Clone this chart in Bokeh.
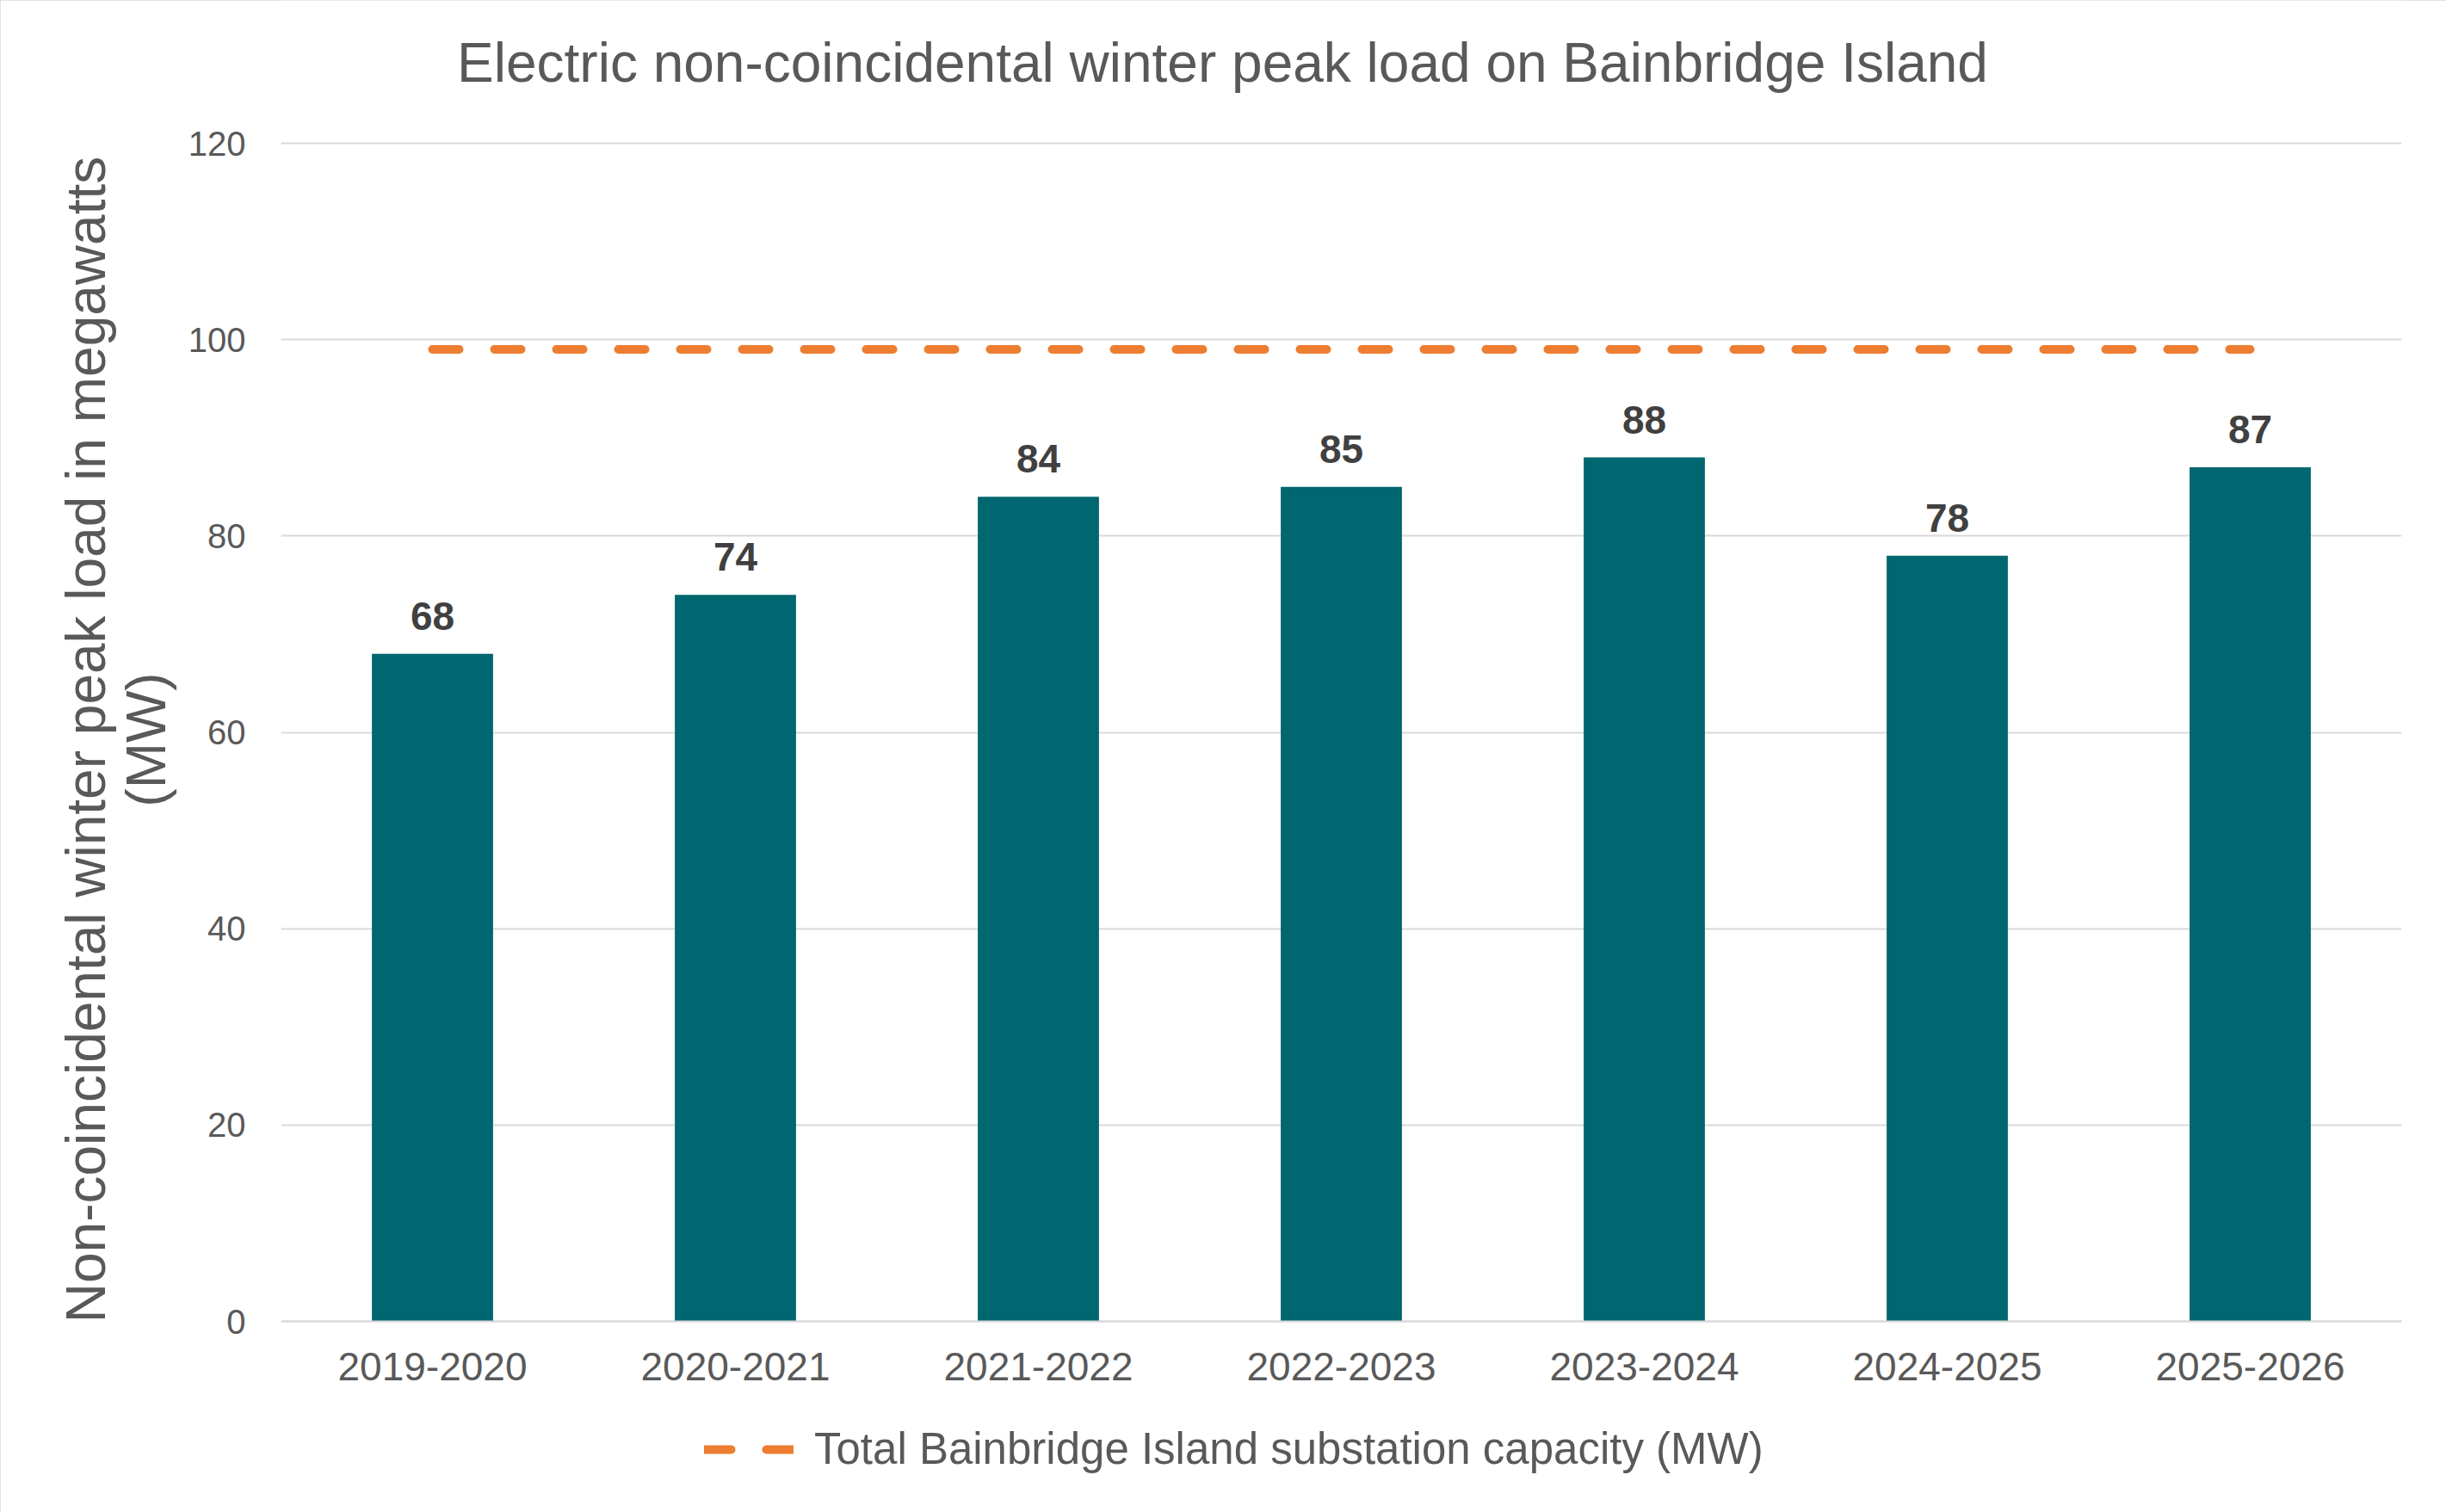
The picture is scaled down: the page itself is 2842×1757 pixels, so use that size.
from bokeh.plotting import figure
from bokeh.models import (ColumnDataSource, FactorRange, Range1d, Legend, LegendItem,
                          FixedTicker, Label)
from bokeh.embed import file_html
from bokeh.resources import INLINE
from bokeh.core.properties import value

# ---- data ----
seasons = ["2019-2020", "2020-2021", "2021-2022", "2022-2023",
           "2023-2024", "2024-2025", "2025-2026"]
peak_load = [68, 74, 84, 85, 88, 78, 87]
capacity = [99, 99, 99, 99, 99, 99, 99]
y_ticks = [0, 20, 40, 60, 80, 100, 120]

title_text = "Electric non-coincidental winter peak load on Bainbridge Island"
ylabel_line1 = "Non-coincidental winter peak load in megawatts"
ylabel_line2 = "(MW)"
legend_label = "Total Bainbridge Island substation capacity (MW)"

FONT = "Liberation Sans"
GRAY = "#595959"
TEAL = "#00666F"
ORANGE = "#ED7D31"
GRID = "#D9D9D9"

# ---- layout (pixels) ----
W, H = 2842, 1757
FRAME_LEFT, FRAME_RIGHT = 326, 2790
FRAME_TOP, FRAME_BOTTOM = 0, 1718
Y_TOP_PX, Y_ZERO_PX = 166, 1535          # where 120 and 0 sit
TITLE_PX_X, TITLE_PX_Y = 1420, 72
px_per_unit = (Y_ZERO_PX - Y_TOP_PX) / max(y_ticks)
y_start = -(FRAME_BOTTOM - Y_ZERO_PX) / px_per_unit
y_end = max(y_ticks) + (Y_TOP_PX - FRAME_TOP) / px_per_unit
px_per_cat = (FRAME_RIGHT - FRAME_LEFT) / len(seasons)

bar_src = ColumnDataSource(dict(season=seasons, load=peak_load,
                                label=[str(v) for v in peak_load]))
cap_src = ColumnDataSource(dict(season=seasons, cap=capacity))

p = figure(x_range=FactorRange(factors=seasons, range_padding=0),
           y_range=Range1d(y_start, y_end),
           width=W, height=H, title=None,
           output_backend="svg", toolbar_location=None,
           min_border_left=FRAME_LEFT, min_border_right=W - FRAME_RIGHT,
           min_border_top=FRAME_TOP, min_border_bottom=H - FRAME_BOTTOM)

p.styles = {"outline": "3px solid #D9D9D9", "outline-offset": "-3px"}

# title (as a label inside the plot area)
p.add_layout(Label(x=(TITLE_PX_X - FRAME_LEFT) / px_per_cat,
                   y=max(y_ticks) + (Y_TOP_PX - TITLE_PX_Y) / px_per_unit,
                   text=title_text, text_align="center",
                   text_baseline="alphabetic", text_font=FONT,
                   text_font_size="64px", text_color=GRAY))

# bars
p.vbar(x="season", top="load", width=0.4, source=bar_src,
       fill_color=TEAL, line_color=None)

# data labels
p.text(x="season", y="load", text="label", source=bar_src,
       text_font=value(FONT), text_font_size="46px", text_font_style="bold",
       text_color="#404040", text_align="center", text_baseline="alphabetic",
       y_offset=-44)

# capacity line
r_cap = p.line(x="season", y="cap", source=cap_src, line_color=ORANGE,
               line_width=10, line_dash="31 41", line_cap="round")

# axes
p.xaxis.fixed_location = 0
p.xaxis.axis_line_color = GRID
p.xaxis.axis_line_width = 2
p.xaxis.major_tick_line_color = None
p.xaxis.minor_tick_line_color = None
p.xaxis.major_label_text_font = FONT
p.xaxis.major_label_text_font_size = "46px"
p.xaxis.major_label_text_color = GRAY
p.xaxis.major_label_standoff = 30

p.yaxis.ticker = FixedTicker(ticks=y_ticks)
p.yaxis.axis_line_color = None
p.yaxis.major_tick_line_color = None
p.yaxis.minor_tick_line_color = None
p.yaxis.major_label_text_font = FONT
p.yaxis.major_label_text_font_size = "40px"
p.yaxis.major_label_text_color = GRAY
p.yaxis.major_label_standoff = 35

# y-axis title (two lines)
p.yaxis.axis_label = ylabel_line1 + "\n" + ylabel_line2
p.yaxis.axis_label_text_font = FONT
p.yaxis.axis_label_text_font_size = "64px"
p.yaxis.axis_label_text_font_style = "normal"
p.yaxis.axis_label_text_color = GRAY
p.yaxis.axis_label_text_line_height = 0.97
p.yaxis.axis_label_standoff = 10

p.ygrid.ticker = FixedTicker(ticks=y_ticks)
p.ygrid.grid_line_color = GRID
p.ygrid.grid_line_width = 2
p.xgrid.grid_line_color = None
p.outline_line_color = None

# legend
legend = Legend(items=[LegendItem(label=legend_label, renderers=[r_cap])],
                location=(492, 5), orientation="horizontal",
                glyph_width=104, glyph_height=50, label_height=50,
                label_standoff=24, padding=0, margin=0, spacing=0,
                border_line_color=None, background_fill_alpha=0,
                label_text_font=FONT, label_text_font_size="51px",
                label_text_color=GRAY)
p.add_layout(legend)

open("out.html", "w").write(file_html(p, INLINE))
